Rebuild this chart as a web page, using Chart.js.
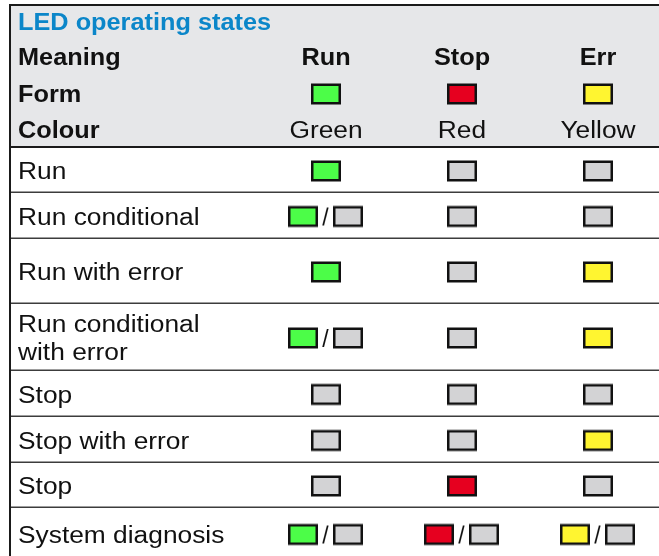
<!DOCTYPE html>
<html>
<head>
<title>LED operating states</title>
<script src="https://cdn.jsdelivr.net/npm/chart.js"></script>
<style>
  body { margin: 0; background: #fff; }
</style>
</head>
<body>
<canvas id="myChart" width="659" height="556"></canvas>
<script>
// data
const title = 'LED operating states';
const headerLabels = ['Meaning', 'Form', 'Colour'];
const ledNames = ['Run', 'Stop', 'Err'];
const ledColourNames = ['Green', 'Red', 'Yellow'];
const stateNames = ['Run', 'Run conditional', 'Run with error', ['Run conditional', 'with error'],
                    'Stop', 'Stop with error', 'Stop', 'System diagnosis'];
const runLed  = ['on',  'blink', 'on',  'blink', 'off', 'off', 'off', 'blink'];
const stopLed = ['off', 'off',   'off', 'off',   'off', 'off', 'on',  'blink'];
const errLed  = ['off', 'off',   'on',  'on',    'off', 'on',  'off', 'blink'];

// layout / styles
const headerRowHeights = [36, 36, 36, 35];
const bodyRowHeights = [45, 46, 65, 67, 46, 46, 45, 52];
const labelColWidth = 249;
const ledColWidth = 136;
const ledFill = ['#4cfd48', '#e6001f', '#fff530'];
const offFill = '#d3d3d5';
const fontSize = 23;
const boldStretch = 1.1;
const plainStretch = 1.145;
const fontFamily = '"Liberation Sans", Arial, sans-serif';

// row centres from the row heights
function centres(heights, start) {
    const out = [];
    let y = start;
    heights.forEach(h => { out.push(y + h / 2); y += h; });
    return out;
}
const headerHeight = headerRowHeights.reduce((a, b) => a + b, 0);
const headerCentres = centres(headerRowHeights, 0);
const bodyCentres = centres(bodyRowHeights, headerHeight);
const bodyEdges = [];
bodyRowHeights.reduce((y, h) => { bodyEdges.push(y + h); return y + h; }, headerHeight);

function colCentre(i) { return labelColWidth + ledColWidth * (i + 0.5); }

// LED symbols used as point styles
function makeLed(fill, blink) {
    const h = 24;
    const c = document.createElement('canvas');
    c.width = blink ? 76 : 30;
    c.height = h;
    const g = c.getContext('2d');
    g.lineWidth = 2.5;
    g.strokeStyle = '#111';
    const box = (x, f) => {
        g.fillStyle = f;
        g.fillRect(x + 1.25, (h - 21) / 2 + 1.25, 27.5, 18.5);
        g.strokeRect(x + 1.25, (h - 21) / 2 + 1.25, 27.5, 18.5);
    };
    box(0, fill);
    if (blink) {
        box(45, offFill);
        g.fillStyle = '#111';
        g.font = fontSize + 'px ' + fontFamily;
        g.textAlign = 'center';
        g.textBaseline = 'alphabetic';
        g.fillText('/', 37.5, h / 2 + 8.5);
    }
    return c;
}
const ledImages = ledFill.map(f => ({
    on: makeLed(f, false),
    off: makeLed(offFill, false),
    blink: makeLed(f, true)
}));

const ledStates = [runLed, stopLed, errLed];
const datasets = ledStates.map((states, i) => ({
    label: ledNames[i],
    data: [{ x: colCentre(i), y: headerCentres[2], state: 'on' }]
        .concat(states.map((s, r) => ({ x: colCentre(i), y: bodyCentres[r] + 1.5, state: s }))),
    pointStyle: ctx => ledImages[i][ctx.raw ? ctx.raw.state : 'on'],
    pointRadius: 10,
    showLine: false
}));

function drawText(ctx, txt, x, yMid, bold, color, align) {
    const stretch = bold ? boldStretch : plainStretch;
    ctx.save();
    ctx.font = (bold ? 'bold ' : '') + fontSize + 'px ' + fontFamily;
    ctx.fillStyle = color;
    ctx.textAlign = 'left';
    ctx.textBaseline = 'alphabetic';
    const w = ctx.measureText(txt).width * stretch;
    const x0 = align === 'center' ? x - w / 2 : x;
    ctx.translate(x0, yMid + fontSize * 0.358);
    ctx.scale(stretch, 1);
    ctx.fillText(txt, 0, 0);
    ctx.restore();
}

const tablePlugin = {
    id: 'table',
    beforeDatasetsDraw(chart) {
        const ctx = chart.ctx;
        const xs = chart.scales.x, ys = chart.scales.y;
        const left = chart.chartArea.left, right = chart.chartArea.right;
        const top = ys.getPixelForValue(0), hb = ys.getPixelForValue(headerHeight);

        ctx.save();
        ctx.fillStyle = '#e6e7e9';
        ctx.fillRect(left, top, right - left, hb - top);

        // body row lines
        ctx.strokeStyle = '#3c3c3c';
        ctx.lineWidth = 1.5;
        bodyEdges.forEach(v => {
            const y = Math.round(ys.getPixelForValue(v)) + 0.25;
            ctx.beginPath(); ctx.moveTo(left, y); ctx.lineTo(right, y); ctx.stroke();
        });
        // outer borders
        ctx.strokeStyle = '#1a1a1a';
        ctx.lineWidth = 2;
        ctx.beginPath(); ctx.moveTo(left, top + 1); ctx.lineTo(right, top + 1); ctx.stroke();
        ctx.beginPath(); ctx.moveTo(left, hb); ctx.lineTo(right, hb); ctx.stroke();
        ctx.beginPath(); ctx.moveTo(left + 1, top); ctx.lineTo(left + 1, chart.chartArea.bottom); ctx.stroke();
        ctx.restore();

        const tx = xs.getPixelForValue(0) + 9;
        drawText(ctx, title, tx, ys.getPixelForValue(headerCentres[0]), true, '#0b86c9', 'left');
        headerLabels.forEach((t, r) => {
            drawText(ctx, t, tx, ys.getPixelForValue(headerCentres[r + 1]) - (r === 0 ? 1 : 0), true, '#111', 'left');
        });
        ledNames.forEach((t, i) => {
            drawText(ctx, t, xs.getPixelForValue(colCentre(i)), ys.getPixelForValue(headerCentres[1]) - 1, true, '#111', 'center');
            drawText(ctx, ledColourNames[i], xs.getPixelForValue(colCentre(i)), ys.getPixelForValue(headerCentres[3]), false, '#111', 'center');
        });
        stateNames.forEach((t, r) => {
            const lines = Array.isArray(t) ? t : [t];
            const yc = ys.getPixelForValue(bodyCentres[r] + 1.5);
            lines.forEach((ln, k) => {
                drawText(ctx, ln, tx, yc + (k - (lines.length - 1) / 2) * 28, false, '#111', 'left');
            });
        });
    }
};

new Chart(document.getElementById('myChart'), {
    type: 'scatter',
    data: { datasets: datasets },
    options: {
        responsive: false,
        animation: false,
        events: [],
        layout: { autoPadding: false, padding: { left: 9, top: 4, right: 0, bottom: 0 } },
        plugins: { legend: { display: false }, tooltip: { enabled: false } },
        scales: {
            x: { type: 'linear', min: 0, max: 650, display: false },
            y: { type: 'linear', min: 0, max: 552, reverse: true, display: false }
        }
    },
    plugins: [tablePlugin]
});
</script>
</body>
</html>
